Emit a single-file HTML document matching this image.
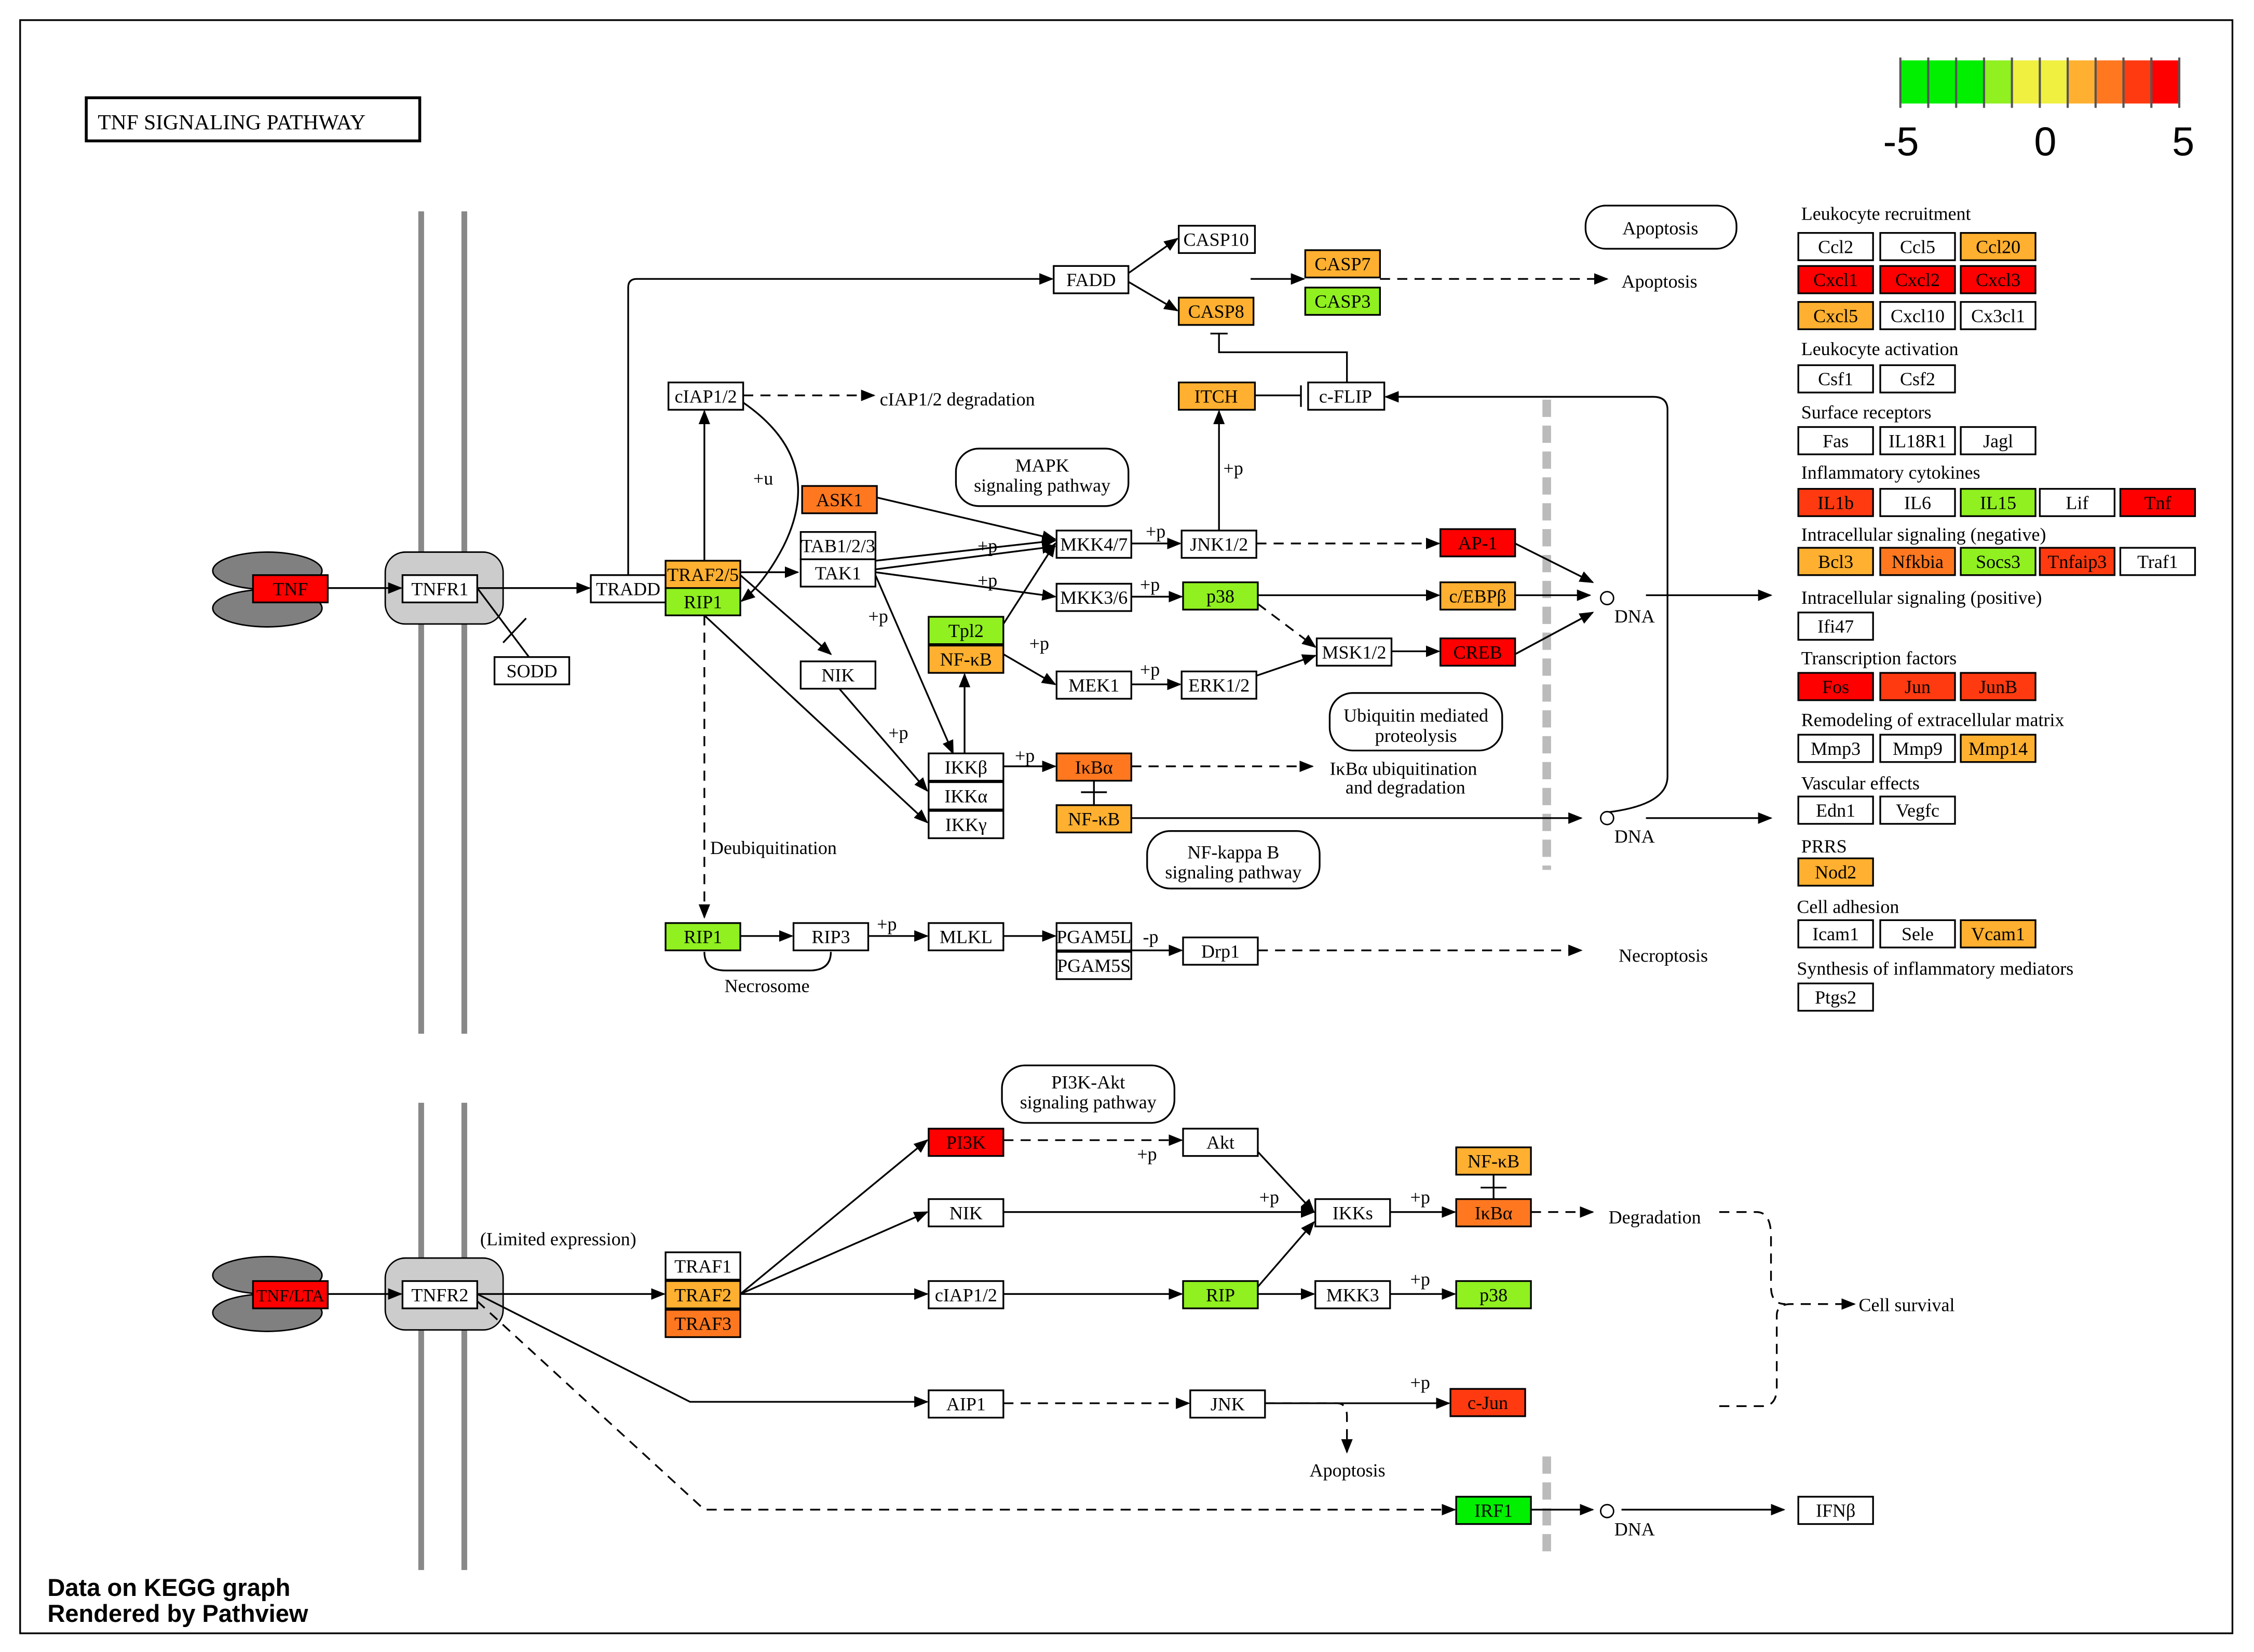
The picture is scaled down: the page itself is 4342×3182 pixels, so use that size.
<!DOCTYPE html>
<html><head><meta charset="utf-8"><style>
html,body{margin:0;padding:0;background:#fff;}
svg{display:block;}
text{font-family:"Liberation Serif",serif;font-size:13px;fill:#000;}
.b text{text-anchor:middle;}
.n{stroke:#000;stroke-width:1.2;}
.l{stroke:#000;stroke-width:1.2;fill:none;}
.d{stroke:#000;stroke-width:1.2;fill:none;stroke-dasharray:7 5;}
.h{font-family:"Liberation Sans",sans-serif;font-weight:bold;font-size:17px;}
</style></head><body>
<svg width="4342" height="3182" viewBox="0 0 1568 1149" preserveAspectRatio="none" xmlns="http://www.w3.org/2000/svg">
<defs><marker id="a" markerWidth="10" markerHeight="8" refX="9" refY="4" orient="auto" markerUnits="userSpaceOnUse"><path d="M0,0 L10,4 L0,8z" fill="#000"/></marker></defs>
<rect x="0" y="0" width="1568" height="1149" fill="#fff"/>
<rect x="14" y="14" width="1539" height="1122" fill="none" stroke="#000" stroke-width="1.2"/>
<rect x="60" y="68" width="232" height="30" fill="#fff" stroke="#000" stroke-width="2"/>
<text x="68" y="90" style="font-size:15px">TNF  SIGNALING  PATHWAY</text>
<g>
<rect x="1322" y="42" width="19.4" height="30" fill="#00f000"/><rect x="1341.4" y="42" width="19.4" height="30" fill="#00f000"/><rect x="1360.8" y="42" width="19.4" height="30" fill="#00f000"/><rect x="1380.2" y="42" width="19.4" height="30" fill="#90f020"/><rect x="1399.6" y="42" width="19.4" height="30" fill="#f0f040"/><rect x="1419" y="42" width="19.4" height="30" fill="#f0f040"/><rect x="1438.4" y="42" width="19.4" height="30" fill="#ffb030"/><rect x="1457.8" y="42" width="19.4" height="30" fill="#ff7820"/><rect x="1477.2" y="42" width="19.4" height="30" fill="#ff3a10"/><rect x="1496.6" y="42" width="19.4" height="30" fill="#ff0000"/>
<path d="M1322,40V75M1341.4,40V75M1360.8,40V75M1380.2,40V75M1399.6,40V75M1419,40V75M1438.4,40V75M1457.8,40V75M1477.2,40V75M1496.6,40V75M1516,40V75" stroke="#555" stroke-width="1.5"/>
<text x="1310" y="108" style="font-family:'Liberation Sans',sans-serif;font-size:28px">-5</text>
<text x="1415" y="108" style="font-family:'Liberation Sans',sans-serif;font-size:28px">0</text>
<text x="1511" y="108" style="font-family:'Liberation Sans',sans-serif;font-size:28px">5</text>
</g>
<path d="M293,147V719M323,147V719M293,767V1092M323,767V1092" stroke="#888" stroke-width="4"/>
<path d="M1076,278V605M1076,1013V1080" stroke="#bbb" stroke-width="6" stroke-dasharray="12 6"/>
<ellipse cx="186" cy="397" rx="38" ry="13" fill="#808080" stroke="#000"/><ellipse cx="186" cy="423" rx="38" ry="13" fill="#808080" stroke="#000"/>
<ellipse cx="186" cy="887" rx="38" ry="13" fill="#808080" stroke="#000"/><ellipse cx="186" cy="913" rx="38" ry="13" fill="#808080" stroke="#000"/>
<rect x="268" y="384" width="82" height="50" rx="14" fill="#ccc" stroke="#000"/>
<rect x="268" y="875" width="82" height="50" rx="14" fill="#ccc" stroke="#000"/>
<g fill="#fff" stroke="#000" stroke-width="1.2">
<rect x="1103" y="143" width="105" height="30" rx="14"/>
<rect x="665" y="312" width="120" height="40" rx="16"/>
<rect x="925" y="482" width="120" height="40" rx="16"/>
<rect x="798" y="578" width="120" height="40" rx="16"/>
<rect x="697" y="741" width="120" height="40" rx="16"/>
</g>
<g style="text-anchor:middle">
<text x="1155" y="163">Apoptosis</text>
<text x="725" y="328">MAPK</text><text x="725" y="342">signaling pathway</text>
<text x="985" y="502">Ubiquitin mediated</text><text x="985" y="516">proteolysis</text>
<text x="858" y="597">NF-kappa B</text><text x="858" y="611">signaling pathway</text>
<text x="757" y="757">PI3K-Akt</text><text x="757" y="771">signaling pathway</text>
</g>
<g class="l" marker-end="url(#a)">
<path d="M228,409H279"/><path d="M332,409H410"/>
<path d="M437,400V200Q437,194 443,194H732"/>
<path d="M785,190L819,166"/><path d="M785,196L819,216"/>
<path d="M870,194H907"/>
<path d="M848,369V286"/>
<path d="M1118,565Q1160,560 1160,540V285Q1160,276 1150,276H964"/>
<path d="M490,390V286"/>
<path d="M517,280Q575,320 545,380Q532,405 516,418"/>
<path d="M515,398H555"/>
<path d="M609,390L734,376"/><path d="M609,396L734,380"/><path d="M609,398L734,415"/><path d="M610,346L734,375"/>
<path d="M609,400L663,524"/>
<path d="M515,400L578,455"/><path d="M583,478L645,550"/>
<path d="M490,428L645,572"/>
<path d="M698,434L734,378"/><path d="M698,455L734,476"/>
<path d="M671,524V469"/>
<path d="M787,378H821"/><path d="M787,415H822"/><path d="M787,476H821"/>
<path d="M875,414H1001"/><path d="M874,470L915,456"/><path d="M968,453H1001"/>
<path d="M1054,378L1108,405"/><path d="M1054,414H1106"/><path d="M1054,455L1108,426"/>
<path d="M1145,414H1232"/><path d="M1145,569H1232"/>
<path d="M698,533H734"/><path d="M787,569H1100"/>
<path d="M515,651H551"/><path d="M604,651H645"/><path d="M698,651H734"/><path d="M787,661H822"/>
<path d="M228,900H279"/><path d="M332,900H462"/>
<path d="M515,900L645,793"/><path d="M515,900L645,843"/><path d="M515,900H645"/>
<path d="M874,800L914,843"/><path d="M698,843H914"/><path d="M875,895L914,850"/>
<path d="M698,900H822"/><path d="M875,900H914"/><path d="M967,900H1012"/><path d="M967,843H1012"/>
<path d="M332,900L480,975H645"/><path d="M880,976H1008"/>
<path d="M1065,1050H1108"/><path d="M1128,1050H1241"/>
</g>
<g class="d" marker-end="url(#a)">
<path d="M960,194H1118"/><path d="M517,275H608"/>
<path d="M874,378H1001"/><path d="M875,420L915,450"/>
<path d="M787,533H913"/><path d="M490,428V638"/><path d="M875,661H1100"/>
<path d="M698,793H822"/><path d="M1065,843H1108"/><path d="M698,976H827"/>
<path d="M880,976H930Q937,976 937,985V1010"/>
<path d="M332,905L490,1050H1012"/>
<path d="M1196,978H1226Q1236,978 1236,965V915Q1236,907 1246,907H1290"/>
</g>
<path class="d" d="M1196,843H1222Q1232,843 1232,860V895Q1232,907 1242,907"/>
<g class="l">
<path d="M937,266V245H848V232M842,232H854"/>
<path d="M873,275H905M905,268V283"/>
<path d="M761,543V560M752,551H770"/><path d="M1039,817V834M1030,826H1048"/>
<path d="M490,662Q490,675 505,675H563Q578,675 578,662"/>
<path d="M332,409L368,457M350,447L366,430"/>
</g>
<circle cx="1118" cy="416" r="4.5" fill="#fff" stroke="#000"/><circle cx="1118" cy="569" r="4.5" fill="#fff" stroke="#000"/><circle cx="1118" cy="1051" r="4.5" fill="#fff" stroke="#000"/>
<text x="612" y="282">cIAP1/2 degradation</text><text x="1128" y="200">Apoptosis</text>
<text x="524" y="337">+u</text><text x="680" y="384">+p</text><text x="680" y="408">+p</text><text x="604" y="433">+p</text>
<text x="716" y="452">+p</text><text x="618" y="514">+p</text><text x="706" y="530">+p</text>
<text x="797" y="374">+p</text><text x="793" y="411">+p</text><text x="793" y="470">+p</text><text x="851" y="330">+p</text>
<text x="1123" y="433">DNA</text><text x="1123" y="586">DNA</text><text x="1123" y="1068">DNA</text>
<text x="925" y="539">IκBα ubiquitination</text><text x="936" y="552">and degradation</text>
<text x="494" y="594">Deubiquitination</text><text x="504" y="690">Necrosome</text><text x="1126" y="669">Necroptosis</text>
<text x="610" y="647">+p</text><text x="795" y="656">-p</text>
<text x="334" y="866">(Limited expression)</text>
<text x="791" y="807">+p</text><text x="876" y="837">+p</text><text x="981" y="837">+p</text><text x="981" y="894">+p</text><text x="981" y="966">+p</text>
<text x="1119" y="851">Degradation</text><text x="1293" y="912">Cell survival</text><text x="911" y="1027">Apoptosis</text>
<text x="33" y="1110" class="h">Data on KEGG graph</text><text x="33" y="1128" class="h">Rendered by Pathview</text>
<g>
<text x="1253" y="153">Leukocyte recruitment</text><text x="1253" y="247">Leukocyte activation</text><text x="1253" y="291">Surface receptors</text>
<text x="1253" y="333">Inflammatory cytokines</text><text x="1253" y="376">Intracellular signaling (negative)</text><text x="1253" y="420">Intracellular signaling (positive)</text>
<text x="1253" y="462">Transcription factors</text><text x="1253" y="505">Remodeling of extracellular matrix</text><text x="1253" y="549">Vascular effects</text>
<text x="1253" y="593">PRRS</text><text x="1250" y="635">Cell adhesion</text><text x="1250" y="678">Synthesis of inflammatory mediators</text>
</g>
<g class="b">
<g class="n">
<rect x="176" y="400" width="52" height="19" fill="#ff0000"/><rect x="280" y="400" width="52" height="19" fill="#fff"/>
<rect x="411" y="400" width="52" height="19" fill="#fff"/><rect x="463" y="390" width="52" height="19" fill="#ffb030"/><rect x="463" y="409" width="52" height="19" fill="#90f020"/>
<rect x="344" y="457" width="52" height="19" fill="#fff"/>
<rect x="733" y="185" width="52" height="19" fill="#fff"/><rect x="820" y="157" width="53" height="19" fill="#fff"/>
<rect x="908" y="174" width="52" height="19" fill="#ffb030"/><rect x="908" y="200" width="52" height="19" fill="#90f020"/><rect x="820" y="207" width="52" height="19" fill="#ffb030"/>
<rect x="465" y="266" width="52" height="19" fill="#fff"/><rect x="820" y="266" width="53" height="19" fill="#ffb030"/><rect x="910" y="266" width="53" height="19" fill="#fff"/>
<rect x="558" y="338" width="52" height="19" fill="#ff7820"/><rect x="557" y="370" width="52" height="19" fill="#fff"/><rect x="557" y="389" width="52" height="19" fill="#fff"/>
<rect x="735" y="369" width="52" height="19" fill="#fff"/><rect x="822" y="369" width="52" height="19" fill="#fff"/><rect x="1002" y="368" width="52" height="19" fill="#ff0000"/>
<rect x="735" y="406" width="52" height="19" fill="#fff"/><rect x="823" y="405" width="52" height="19" fill="#90f020"/><rect x="1002" y="405" width="52" height="19" fill="#ffb030"/>
<rect x="646" y="429" width="52" height="19" fill="#90f020"/><rect x="646" y="449" width="52" height="19" fill="#ffb030"/>
<rect x="557" y="460" width="52" height="19" fill="#fff"/><rect x="735" y="467" width="52" height="19" fill="#fff"/><rect x="822" y="467" width="52" height="19" fill="#fff"/>
<rect x="916" y="444" width="52" height="19" fill="#fff"/><rect x="1002" y="444" width="52" height="19" fill="#ff0000"/>
<rect x="646" y="524" width="52" height="19" fill="#fff"/><rect x="646" y="544" width="52" height="19" fill="#fff"/><rect x="646" y="564" width="52" height="19" fill="#fff"/>
<rect x="735" y="524" width="52" height="19" fill="#ff7820"/><rect x="735" y="560" width="52" height="19" fill="#ffb030"/>
<rect x="463" y="642" width="52" height="19" fill="#90f020"/><rect x="552" y="642" width="52" height="19" fill="#fff"/><rect x="646" y="642" width="52" height="19" fill="#fff"/>
<rect x="735" y="642" width="52" height="19" fill="#fff"/><rect x="735" y="662" width="52" height="19" fill="#fff"/><rect x="823" y="652" width="52" height="19" fill="#fff"/>
<rect x="176" y="891" width="52" height="19" fill="#ff0000"/><rect x="280" y="891" width="52" height="19" fill="#fff"/>
<rect x="463" y="871" width="52" height="19" fill="#fff"/><rect x="463" y="891" width="52" height="19" fill="#ffb030"/><rect x="463" y="911" width="52" height="19" fill="#ff7820"/>
<rect x="646" y="785" width="52" height="19" fill="#ff0000"/><rect x="823" y="785" width="52" height="19" fill="#fff"/>
<rect x="1013" y="798" width="52" height="19" fill="#ffb030"/><rect x="1013" y="834" width="52" height="19" fill="#ff7820"/>
<rect x="646" y="834" width="52" height="19" fill="#fff"/><rect x="915" y="834" width="52" height="19" fill="#fff"/>
<rect x="646" y="891" width="52" height="19" fill="#fff"/><rect x="823" y="891" width="52" height="19" fill="#90f020"/><rect x="915" y="891" width="52" height="19" fill="#fff"/><rect x="1013" y="891" width="52" height="19" fill="#90f020"/>
<rect x="646" y="967" width="52" height="19" fill="#fff"/><rect x="828" y="967" width="52" height="19" fill="#fff"/><rect x="1009" y="966" width="52" height="19" fill="#ff3a10"/>
<rect x="1013" y="1041" width="52" height="19" fill="#00f000"/><rect x="1251" y="1041" width="52" height="19" fill="#fff"/>
<rect x="1251" y="162" width="52" height="19" fill="#fff"/><rect x="1308" y="162" width="52" height="19" fill="#fff"/><rect x="1364" y="162" width="52" height="19" fill="#ffb030"/>
<rect x="1251" y="185" width="52" height="19" fill="#ff0000"/><rect x="1308" y="185" width="52" height="19" fill="#ff0000"/><rect x="1364" y="185" width="52" height="19" fill="#ff0000"/>
<rect x="1251" y="210" width="52" height="19" fill="#ffb030"/><rect x="1308" y="210" width="52" height="19" fill="#fff"/><rect x="1364" y="210" width="52" height="19" fill="#fff"/>
<rect x="1251" y="254" width="52" height="19" fill="#fff"/><rect x="1308" y="254" width="52" height="19" fill="#fff"/>
<rect x="1251" y="297" width="52" height="19" fill="#fff"/><rect x="1308" y="297" width="52" height="19" fill="#fff"/><rect x="1364" y="297" width="52" height="19" fill="#fff"/>
<rect x="1251" y="340" width="52" height="19" fill="#ff3a10"/><rect x="1308" y="340" width="52" height="19" fill="#fff"/><rect x="1364" y="340" width="52" height="19" fill="#90f020"/><rect x="1419" y="340" width="52" height="19" fill="#fff"/><rect x="1475" y="340" width="52" height="19" fill="#ff0000"/>
<rect x="1251" y="381" width="52" height="19" fill="#ffb030"/><rect x="1308" y="381" width="52" height="19" fill="#ff7820"/><rect x="1364" y="381" width="52" height="19" fill="#90f020"/><rect x="1419" y="381" width="52" height="19" fill="#ff3a10"/><rect x="1475" y="381" width="52" height="19" fill="#fff"/>
<rect x="1251" y="426" width="52" height="19" fill="#fff"/>
<rect x="1251" y="468" width="52" height="19" fill="#ff0000"/><rect x="1308" y="468" width="52" height="19" fill="#ff3a10"/><rect x="1364" y="468" width="52" height="19" fill="#ff3a10"/>
<rect x="1251" y="511" width="52" height="19" fill="#fff"/><rect x="1308" y="511" width="52" height="19" fill="#fff"/><rect x="1364" y="511" width="52" height="19" fill="#ffb030"/>
<rect x="1251" y="554" width="52" height="19" fill="#fff"/><rect x="1308" y="554" width="52" height="19" fill="#fff"/>
<rect x="1251" y="597" width="52" height="19" fill="#ffb030"/>
<rect x="1251" y="640" width="52" height="19" fill="#fff"/><rect x="1308" y="640" width="52" height="19" fill="#fff"/><rect x="1364" y="640" width="52" height="19" fill="#ffb030"/>
<rect x="1251" y="684" width="52" height="19" fill="#fff"/>
</g>
<text x="202" y="414">TNF</text><text x="306" y="414">TNFR1</text><text x="437" y="414">TRADD</text><text x="489" y="404">TRAF2/5</text><text x="489" y="423">RIP1</text><text x="370" y="471">SODD</text>
<text x="759" y="199">FADD</text><text x="846" y="171">CASP10</text><text x="934" y="188">CASP7</text><text x="934" y="214">CASP3</text><text x="846" y="221">CASP8</text>
<text x="491" y="280">cIAP1/2</text><text x="846" y="280">ITCH</text><text x="936" y="280">c-FLIP</text>
<text x="584" y="352">ASK1</text><text x="583" y="384">TAB1/2/3</text><text x="583" y="403">TAK1</text>
<text x="761" y="383">MKK4/7</text><text x="848" y="383">JNK1/2</text><text x="1028" y="382">AP-1</text>
<text x="761" y="420">MKK3/6</text><text x="849" y="419">p38</text><text x="1028" y="419">c/EBPβ</text>
<text x="672" y="443">Tpl2</text><text x="672" y="463">NF-κB</text><text x="583" y="474">NIK</text><text x="761" y="481">MEK1</text><text x="848" y="481">ERK1/2</text>
<text x="942" y="458">MSK1/2</text><text x="1028" y="458">CREB</text>
<text x="672" y="538">IKKβ</text><text x="672" y="558">IKKα</text><text x="672" y="578">IKKγ</text><text x="761" y="538">IκBα</text><text x="761" y="574">NF-κB</text>
<text x="489" y="656">RIP1</text><text x="578" y="656">RIP3</text><text x="672" y="656">MLKL</text><text x="761" y="656">PGAM5L</text><text x="761" y="676">PGAM5S</text><text x="849" y="666">Drp1</text>
<text x="202" y="905" style="font-size:12px">TNF/LTA</text><text x="306" y="905">TNFR2</text>
<text x="489" y="885">TRAF1</text><text x="489" y="905">TRAF2</text><text x="489" y="925">TRAF3</text>
<text x="672" y="799">PI3K</text><text x="849" y="799">Akt</text><text x="1039" y="812">NF-κB</text><text x="1039" y="848">IκBα</text>
<text x="672" y="848">NIK</text><text x="941" y="848">IKKs</text>
<text x="672" y="905">cIAP1/2</text><text x="849" y="905">RIP</text><text x="941" y="905">MKK3</text><text x="1039" y="905">p38</text>
<text x="672" y="981">AIP1</text><text x="854" y="981">JNK</text><text x="1035" y="980">c-Jun</text>
<text x="1039" y="1055">IRF1</text><text x="1277" y="1055">IFNβ</text>
<text x="1277" y="176">Ccl2</text><text x="1334" y="176">Ccl5</text><text x="1390" y="176">Ccl20</text>
<text x="1277" y="199">Cxcl1</text><text x="1334" y="199">Cxcl2</text><text x="1390" y="199">Cxcl3</text>
<text x="1277" y="224">Cxcl5</text><text x="1334" y="224">Cxcl10</text><text x="1390" y="224">Cx3cl1</text>
<text x="1277" y="268">Csf1</text><text x="1334" y="268">Csf2</text>
<text x="1277" y="311">Fas</text><text x="1334" y="311">IL18R1</text><text x="1390" y="311">Jagl</text>
<text x="1277" y="354">IL1b</text><text x="1334" y="354">IL6</text><text x="1390" y="354">IL15</text><text x="1445" y="354">Lif</text><text x="1501" y="354">Tnf</text>
<text x="1277" y="395">Bcl3</text><text x="1334" y="395">Nfkbia</text><text x="1390" y="395">Socs3</text><text x="1445" y="395">Tnfaip3</text><text x="1501" y="395">Traf1</text>
<text x="1277" y="440">Ifi47</text>
<text x="1277" y="482">Fos</text><text x="1334" y="482">Jun</text><text x="1390" y="482">JunB</text>
<text x="1277" y="525">Mmp3</text><text x="1334" y="525">Mmp9</text><text x="1390" y="525">Mmp14</text>
<text x="1277" y="568">Edn1</text><text x="1334" y="568">Vegfc</text>
<text x="1277" y="611">Nod2</text>
<text x="1277" y="654">Icam1</text><text x="1334" y="654">Sele</text><text x="1390" y="654">Vcam1</text>
<text x="1277" y="698">Ptgs2</text>
</g>
</svg>
</body></html>
